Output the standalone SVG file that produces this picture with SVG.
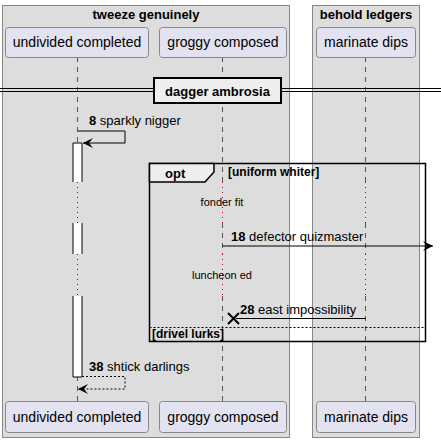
<svg xmlns="http://www.w3.org/2000/svg" width="441" height="443" viewBox="0 0 441 443">
<style>
text{font-family:"Liberation Sans",Arial,sans-serif;fill:#000}
.grp{fill:#DDDDDD;stroke:#888888;stroke-width:1}
.gt{font-size:13px;font-weight:bold;text-anchor:middle}
.part{fill:#E2E2F0;stroke:#888888;stroke-width:1}
.pt{font-size:14px;text-anchor:middle}
.life{stroke:#555555;stroke-width:1;stroke-dasharray:5,5}
.dly{stroke:#A80036;stroke-width:1;stroke-dasharray:1,4}
.msg{font-size:13px}
.b{font-weight:bold}
.act{fill:#FFFFFF;stroke:none}
.ln{stroke:#000;stroke-width:1;fill:none}
.sm{font-size:11px;text-anchor:middle}
.ft{font-size:12px;font-weight:bold}
</style>
<defs>
<marker id="open" markerWidth="12" markerHeight="12" refX="10" refY="6" orient="auto" markerUnits="userSpaceOnUse">
<path d="M0,1 L10,6 L0,11 L4,6 Z" fill="#000"/>
</marker>
<marker id="fill" markerWidth="12" markerHeight="12" refX="11" refY="6" orient="auto" markerUnits="userSpaceOnUse">
<path d="M1,1 L11,6 L1,11 L5,6 Z" fill="#000"/>
</marker>
</defs>
<g id="group-tweeze">
<rect class="grp" x="2.5" y="5.5" width="287" height="432"/>
<text class="gt" x="146" y="19">tweeze genuinely</text>
</g>
<g id="group-behold">
<rect class="grp" x="312.5" y="5.5" width="107" height="432"/>
<text class="gt" x="366" y="19">behold ledgers</text>
</g>
<g id="lifelines">
<line class="life" x1="77.5" y1="57" x2="77.5" y2="182"/>
<line class="dly" x1="77.5" y1="182" x2="77.5" y2="223"/>
<line class="life" x1="77.5" y1="223" x2="77.5" y2="254"/>
<line class="dly" x1="77.5" y1="254" x2="77.5" y2="296"/>
<line class="life" x1="77.5" y1="296" x2="77.5" y2="401"/>
<line class="life" x1="222.5" y1="57" x2="222.5" y2="182"/>
<line class="dly" x1="222.5" y1="182" x2="222.5" y2="223"/>
<line class="life" x1="222.5" y1="223" x2="222.5" y2="254"/>
<line class="dly" x1="222.5" y1="254" x2="222.5" y2="296"/>
<line class="life" x1="222.5" y1="296" x2="222.5" y2="401"/>
<line class="life" x1="365.5" y1="57" x2="365.5" y2="182"/>
<line class="dly" x1="365.5" y1="182" x2="365.5" y2="223"/>
<line class="life" x1="365.5" y1="223" x2="365.5" y2="254"/>
<line class="dly" x1="365.5" y1="254" x2="365.5" y2="296"/>
<line class="life" x1="365.5" y1="296" x2="365.5" y2="401"/>
</g>
<g id="p-undivided">
<rect class="part" x="5.5" y="27.5" width="143" height="30" rx="3"/>
<text class="pt" x="77" y="47">undivided completed</text>
<rect class="part" x="5.5" y="401.5" width="143" height="31" rx="3"/>
<text class="pt" x="77" y="422">undivided completed</text>
</g>
<g id="p-groggy">
<rect class="part" x="159.5" y="27.5" width="127" height="30" rx="3"/>
<text class="pt" x="223" y="47">groggy composed</text>
<rect class="part" x="159.5" y="401.5" width="127" height="31" rx="3"/>
<text class="pt" x="223" y="422">groggy composed</text>
</g>
<g id="p-marinate">
<rect class="part" x="316.5" y="27.5" width="99" height="30" rx="3"/>
<text class="pt" x="366" y="47">marinate dips</text>
<rect class="part" x="316.5" y="401.5" width="99" height="31" rx="3"/>
<text class="pt" x="366" y="422">marinate dips</text>
</g>
<g id="divider">
<line x1="0" y1="88.5" x2="441" y2="88.5" stroke="#000" stroke-width="1"/>
<line x1="0" y1="91.5" x2="441" y2="91.5" stroke="#000" stroke-width="1"/>
<rect x="154" y="78" width="127" height="25" fill="#EEEEEE" stroke="#000" stroke-width="2"/>
<text class="gt" x="217.5" y="96">dagger ambrosia</text>
</g>
<g id="activation">
<rect class="act" x="73" y="143" width="9" height="39"/>
<path class="ln" d="M73,182 V143 H82 V182"/>
<rect class="act" x="73" y="223" width="9" height="31"/>
<path class="ln" d="M73,223 V254 M82,223 V254"/>
<rect class="act" x="73" y="296" width="9" height="81"/>
<path class="ln" d="M73,296 V377 H82 V296"/>
</g>
<g id="fragment-opt">
<rect x="149.5" y="163.5" width="276" height="178" fill="none" stroke="#000" stroke-width="1.5"/>
<path d="M149.5,163.5 H214 V172 L205,182 H149.5 Z" fill="#EEEEEE" stroke="#000" stroke-width="1.5"/>
<text class="b" x="165" y="178" font-size="13">opt</text>
<text class="ft" x="228" y="176">[uniform whiter]</text>
<line x1="149.5" y1="327.5" x2="425.5" y2="327.5" stroke="#000" stroke-width="1" stroke-dasharray="2,2"/>
<text class="ft" x="152" y="338">[drivel lurks]</text>
</g>
<g id="delays">
<text class="sm" x="222" y="206">fonder fit</text>
<text class="sm" x="222" y="279">luncheon ed</text>
</g>
<g id="connectors">
<path class="ln" d="M78,131 H125 V143 H83" marker-end="url(#open)"/>
<text class="msg" x="89" y="125"><tspan class="b">8</tspan> sparkly nigger</text>
<line class="ln" x1="222.5" y1="246" x2="433" y2="246" marker-end="url(#fill)"/>
<text class="msg" x="231" y="241"><tspan class="b">18</tspan> defector quizmaster</text>
<line class="ln" x1="365.5" y1="318.5" x2="236" y2="318.5"/>
<path d="M228,313 L239,324 M228,324 L239,313" stroke="#000" stroke-width="2" fill="none"/>
<text class="msg" x="240" y="314"><tspan class="b">28</tspan> east impossibility</text>
<path class="ln" d="M82,376.5 H125 V389 H78" stroke-dasharray="2,2" marker-end="url(#open)"/>
<text class="msg" x="89" y="371"><tspan class="b">38</tspan> shtick darlings</text>
</g>
</svg>
